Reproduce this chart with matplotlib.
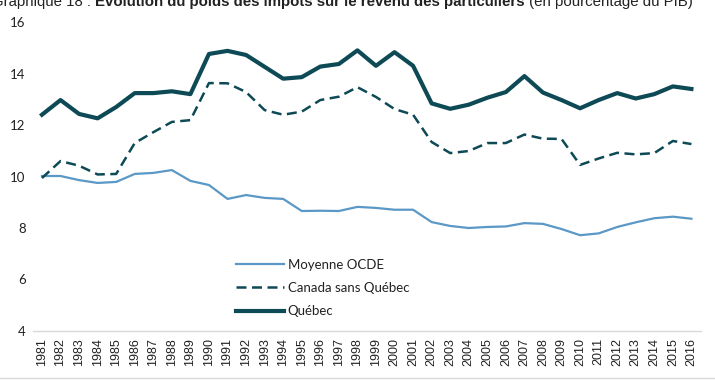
import matplotlib
matplotlib.use("Agg")
import matplotlib.pyplot as plt

plt.rcParams['font.family'] = ['Lato', 'DejaVu Sans']

years = list(range(1981, 2017))
ocde = [10.02, 10.02, 9.86, 9.75, 9.79, 10.10, 10.14, 10.25, 9.83, 9.67,
        9.13, 9.28, 9.17, 9.13, 8.66, 8.67, 8.66, 8.82, 8.78, 8.71,
        8.71, 8.23, 8.08, 8.00, 8.04, 8.06, 8.19, 8.16, 7.96, 7.72,
        7.79, 8.04, 8.22, 8.38, 8.44, 8.36]
canada = [9.94, 10.60, 10.42, 10.08, 10.10, 11.30, 11.72, 12.12, 12.19, 13.63,
          13.62, 13.28, 12.58, 12.40, 12.52, 12.97, 13.10, 13.47, 13.09, 12.62,
          12.40, 11.34, 10.91, 10.99, 11.30, 11.30, 11.63, 11.47, 11.46, 10.45,
          10.70, 10.92, 10.86, 10.91, 11.38, 11.26]
quebec = [12.40, 12.97, 12.43, 12.26, 12.70, 13.24, 13.24, 13.31, 13.20, 14.76,
          14.88, 14.72, 14.26, 13.80, 13.86, 14.27, 14.37, 14.90, 14.30, 14.83,
          14.30, 12.84, 12.63, 12.79, 13.06, 13.28, 13.90, 13.26, 12.97, 12.65,
          12.97, 13.24, 13.03, 13.20, 13.50, 13.40]
labels = ["Moyenne OCDE", "Canada sans Québec", "Québec"]
yticks = [4, 6, 8, 10, 12, 14, 16]

fig = plt.figure(figsize=(7.15, 3.8), dpi=100)
ax = fig.add_axes([0.0457, 0.129, 0.9343, 0.813])

ax.plot(years, ocde, color='#5b98c6', lw=1.6, label=labels[0])
ax.plot(years, canada, color='#0d4a55', lw=1.8, ls=(0, (4, 2.2)), label=labels[1])
ax.plot(years, quebec, color='#0d4a55', lw=3.0, label=labels[2])

ax.set_xlim(1980.5, 2016.5)
ax.set_ylim(4, 16)
ax.set_yticks(yticks)
ax.set_xticks(years)
ax.set_xticklabels([str(y) for y in years], rotation=90, fontsize=9,
                   color='#222222', family=['Liberation Sans', 'DejaVu Sans'])
ax.tick_params(axis='y', length=0, labelsize=9.5, colors='#222222', pad=5)
ax.tick_params(axis='x', length=0, pad=5)
for s in ['top', 'right', 'left']:
    ax.spines[s].set_visible(False)
ax.spines['bottom'].set_color('#d9d9d9')
ax.spines['bottom'].set_linewidth(1.0)

leg = ax.legend(loc='upper left', bbox_to_anchor=(0.287, 0.272), frameon=False,
                fontsize=9.5, handlelength=3.6, labelspacing=0.85, handletextpad=0.3)
for t in leg.get_texts():
    t.set_color('#222222')

# Title (clipped at top in reference)
fig.canvas.draw()
r = fig.canvas.get_renderer()
yb = 0.985
parts = [("Graphique 18 : ", 'normal'),
         ("Évolution du poids des impôts sur le revenu des particuliers", 'bold'),
         (" (en pourcentage du PIB)", 'normal')]
fs = 11.5
# measure widths to fit title between x=-8 and x=700
widths = []
for txt, w in parts:
    t = fig.text(0, 0, txt, fontsize=fs, fontweight=w, family=['Liberation Sans', 'DejaVu Sans'])
    widths.append(t.get_window_extent(renderer=r).width)
    t.remove()
fs = fs * 708 / sum(widths)
x = -8
for txt, w in parts:
    t = fig.text(x / 715, yb, txt, fontsize=fs, fontweight=w, va='baseline', ha='left',
                 color='#222222', family=['Liberation Sans', 'DejaVu Sans'])
    x += t.get_window_extent(renderer=r).width

fig.add_artist(plt.Line2D([0, 1], [0.005, 0.005], color='#d9d9d9', lw=1))

fig.savefig('out.png', dpi=100)
